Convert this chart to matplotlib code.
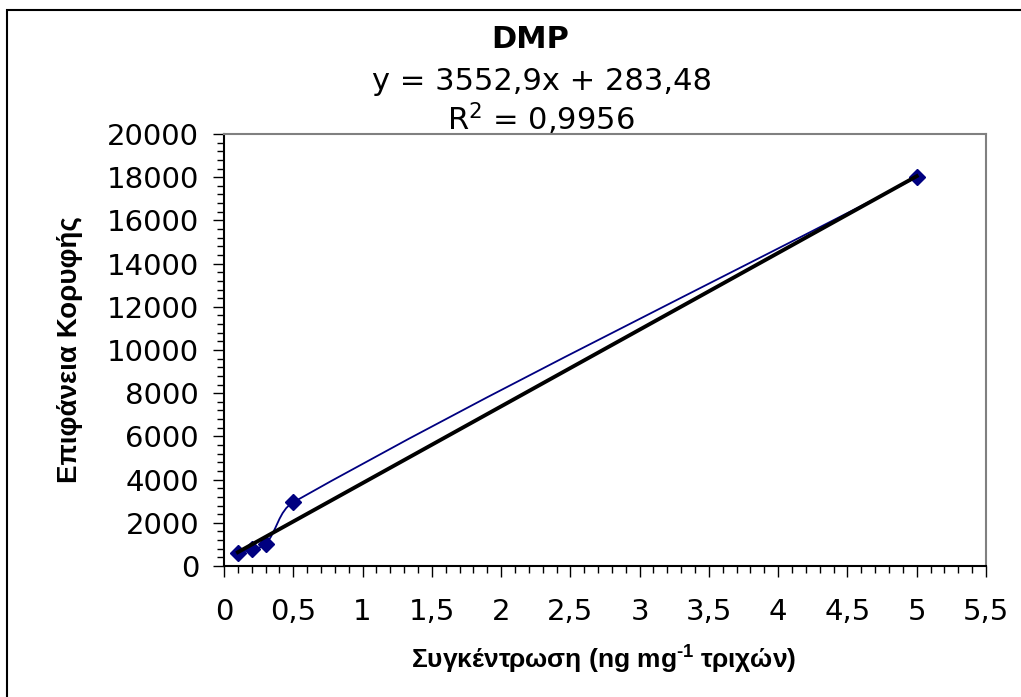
import numpy as np
import matplotlib.pyplot as plt
from matplotlib.path import Path
from matplotlib.patches import PathPatch, Rectangle
from matplotlib.ticker import MultipleLocator, FuncFormatter

plt.rcParams['mathtext.fontset'] = 'custom'
plt.rcParams['mathtext.rm'] = 'Liberation Sans:bold'

# DMP calibration: concentration vs peak area
conc = [0.1, 0.2, 0.3, 0.5, 5.0]
area = [600, 790, 1000, 2950, 18000]

# linear trendline reported on the chart
slope = 3552.9
intercept = 283.48
r2 = 0.9956

title = 'DMP'
xlabel = 'Συγκέντρωση (ng mg$^{\\text{-1}}$ τριχών)'
ylabel = 'Επιφάνεια Κορυφής'


def comma(v, pos=None):
    s = ('%g' % v)
    return s.replace('.', ',')


fig = plt.figure(figsize=(10.21, 6.97), dpi=100)
ax = fig.add_axes([224 / 1021, 1 - 566 / 697, (986 - 224) / 1021, (566 - 134) / 697])

ax.set_xlim(0, 5.5)
ax.set_ylim(0, 20000)
ax.xaxis.set_major_locator(MultipleLocator(0.5))
ax.xaxis.set_minor_locator(MultipleLocator(0.1))
ax.yaxis.set_major_locator(MultipleLocator(2000))
ax.yaxis.set_minor_locator(MultipleLocator(400))
ax.xaxis.set_major_formatter(FuncFormatter(comma))
ax.yaxis.set_major_formatter(FuncFormatter(lambda v, p: '%d' % v))

ax.tick_params(which='major', direction='out', length=8, width=1, labelsize=21,
               color='black')
ax.tick_params(which='minor', direction='out', length=5, width=1, color='black')
ax.tick_params(axis='x', which='major', pad=15)
ax.tick_params(axis='y', which='major', pad=10)

for side in ['left', 'bottom']:
    ax.spines[side].set_color('black')
    ax.spines[side].set_linewidth(1.5)
for side in ['top', 'right']:
    ax.spines[side].set_color('#808080')
    ax.spines[side].set_linewidth(1.5)

# smoothed series line (Bezier through the points, built in screen space)
pts = ax.transData.transform(np.column_stack([conc, area]))
n = len(pts)
verts = [pts[0]]
codes = [Path.MOVETO]
for i in range(n - 1):
    p0 = pts[max(i - 1, 0)]
    p1 = pts[i]
    p2 = pts[i + 1]
    p3 = pts[min(i + 2, n - 1)]
    seg = np.hypot(*(p2 - p1))
    t1 = p2 - p0
    t1 = t1 / np.hypot(*t1)
    t2 = p3 - p1
    t2 = t2 / np.hypot(*t2)
    c1 = p1 + t1 * seg / 3
    c2 = p2 - t2 * seg / 3
    verts += [c1, c2, p2]
    codes += [Path.CURVE4] * 3
verts = ax.transData.inverted().transform(np.array(verts))
ax.add_patch(PathPatch(Path(verts, codes), facecolor='none', edgecolor='#000080',
                       linewidth=1.3, zorder=3))

ax.plot(conc, area, linestyle='none', marker='D', markersize=8,
        color='#000080', zorder=4)

# trendline over the data range, drawn on top of the markers
xt = np.array([min(conc), max(conc)])
ax.plot(xt, slope * xt + intercept, color='black', linewidth=2.8, zorder=5)

fig.text(530 / 1021, 1 - 40 / 697, title, ha='center', va='center',
         fontsize=22, fontweight='bold', family='DejaVu Sans')
fig.text(542 / 1021, 1 - 81 / 697,
         'y = %sx + %s' % (comma(slope), comma(intercept)), ha='center',
         va='center', fontsize=22)
fig.text(541 / 1021, 1 - 119 / 697,
         'R$^{\\mathregular{2}}$ = %s' % comma(r2), ha='center', va='center',
         fontsize=22)

fig.text(604 / 1021, 1 - 659 / 697, xlabel, ha='center', va='center',
         fontsize=19, fontweight='bold', family='Liberation Sans')
fig.text(70 / 1021, 1 - 350 / 697, ylabel, ha='center', va='center',
         rotation=90, fontsize=20, fontweight='bold', family='Liberation Sans')

# outer chart border
fig.patches.append(Rectangle((7 / 1021, -0.1), 1.2, 1 - 10 / 697 + 0.1,
                             transform=fig.transFigure, fill=False,
                             edgecolor='black', linewidth=1.5))

fig.savefig('out.png', dpi=100)
